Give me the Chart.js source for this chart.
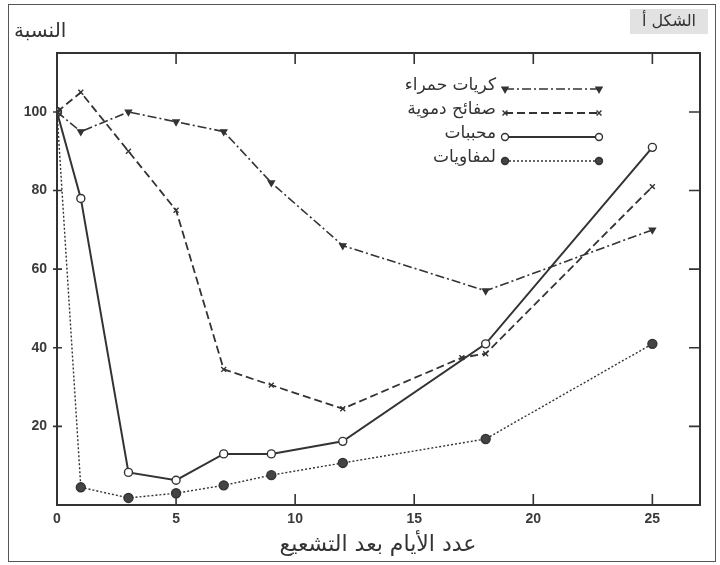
<!DOCTYPE html>
<html>
<head>
<meta charset="utf-8">
<script src="https://cdn.jsdelivr.net/npm/chart.js@4/dist/chart.umd.min.js"></script>
<style>
  html, body { margin: 0; padding: 0; background: #fff; }
  #wrap { position: relative; width: 720px; height: 565px; }
  #frame { position: absolute; left: 8px; top: 4px; width: 708px; height: 558px; border: 1px solid #555; box-sizing: border-box; pointer-events: none; }
</style>
</head>
<body>
<div id="wrap">
  <canvas id="chart" width="720" height="565"></canvas>
  <div id="frame"></div>
</div>
<script>
// days after irradiation
const days = [0, 1, 3, 5, 7, 9, 12, 18, 25];
const plateletDays = [0, 1, 3, 5, 7, 9, 12, 17, 18, 25];

const redCells = [100, 95, 100, 97.5, 95, 82, 66, 54.5, 70];
const platelets = [100, 105, 90, 75, 34.5, 30.5, 24.5, 37.5, 38.5, 81];
const granulocytes = [100, 78, 8.3, 6.3, 13, 13, 16.2, 41, 91];
const lymphocytes = [100, 4.5, 1.8, 3, 5, 7.6, 10.7, 16.8, 41];

const seriesNames = ['كريات حمراء', 'صفائح دموية', 'محببات', 'لمفاويات'];
const xTicks = [0, 5, 10, 15, 20, 25];
const yTicks = [20, 40, 60, 80, 100];

const yTitle = 'النسبة';
const xTitle = 'عدد الأيام بعد التشعيع';
const figLabel = 'الشكل أ';

const ink = '#333';
const arabicFont = '"DejaVu Sans", sans-serif';

function pts(xs, ys) {
  return xs.map((x, i) => ({ x: x, y: ys[i] }));
}

// frame, inward ticks, free texts and the legend
const decor = {
  id: 'decor',
  beforeDatasetsDraw(chart) {
    const ctx = chart.ctx;
    const a = chart.chartArea;
    const xs = chart.scales.x, ys = chart.scales.y;
    ctx.save();
    ctx.strokeStyle = ink;
    ctx.lineWidth = 2;
    ctx.strokeRect(a.left, a.top, a.right - a.left, a.bottom - a.top);
    ctx.lineWidth = 1.6;
    xTicks.slice(1).forEach(v => {
      const px = xs.getPixelForValue(v);
      ctx.beginPath();
      ctx.moveTo(px, a.bottom); ctx.lineTo(px, a.bottom - 11);
      ctx.moveTo(px, a.top); ctx.lineTo(px, a.top + 11);
      ctx.stroke();
    });
    yTicks.forEach(v => {
      const py = ys.getPixelForValue(v);
      ctx.beginPath();
      ctx.moveTo(a.left - 4, py); ctx.lineTo(a.left + 5, py);
      ctx.moveTo(a.right, py); ctx.lineTo(a.right - 11, py);
      ctx.stroke();
    });
    ctx.restore();
  },
  afterDraw(chart) {
    const ctx = chart.ctx;
    ctx.save();
    ctx.fillStyle = ink;
    ctx.font = '20px ' + arabicFont;
    ctx.textAlign = 'left';
    ctx.textBaseline = 'middle';
    ctx.fillText(yTitle, 14, 32);

    // figure label box
    ctx.fillStyle = '#e2e2e2';
    ctx.fillRect(630, 9, 78, 25);
    ctx.fillStyle = ink;
    ctx.font = '16px ' + arabicFont;
    ctx.textAlign = 'right';
    ctx.fillText(figLabel, 696, 22);

    ctx.font = '22px ' + arabicFont;
    ctx.textAlign = 'center';
    ctx.fillText(xTitle, 378, 545);

    // legend: text, then a sample line with a marker at both ends
    const rowY = [89, 113, 137, 161];
    chart.data.datasets.forEach((ds, i) => {
      const y = rowY[i];
      ctx.fillStyle = ink;
      ctx.font = '17px ' + arabicFont;
      ctx.textAlign = 'right';
      ctx.fillText(ds.label, 496, y - 3);
      ctx.strokeStyle = ds.borderColor;
      ctx.lineWidth = ds.borderWidth;
      ctx.setLineDash(ds.borderDash || []);
      ctx.beginPath();
      ctx.moveTo(505, y); ctx.lineTo(599, y);
      ctx.stroke();
      ctx.setLineDash([]);
      [505, 599].forEach(x => {
        ctx.fillStyle = ds.pointBackgroundColor;
        ctx.strokeStyle = ds.borderColor;
        ctx.lineWidth = 1.4;
        Chart.helpers.drawPoint(ctx, {
          pointStyle: ds.pointStyle,
          radius: 3.5,
          rotation: ds.pointRotation || 0,
          borderWidth: 1.4
        }, x, y);
      });
    });
    ctx.restore();
  }
};

const common = {
  borderColor: ink,
  pointBorderColor: ink,
  pointBorderWidth: 1.4,
  pointRadius: 4,
  fill: false,
  tension: 0
};

new Chart(document.getElementById('chart').getContext('2d'), {
  type: 'line',
  data: {
    datasets: [
      Object.assign({}, common, {
        label: seriesNames[0],
        data: pts(days, redCells),
        borderWidth: 1.6,
        borderDash: [9, 3, 2, 3],
        pointStyle: 'triangle',
        pointRotation: 180,
        pointBackgroundColor: ink,
        pointRadius: 3.5
      }),
      Object.assign({}, common, {
        label: seriesNames[1],
        data: pts(plateletDays, platelets),
        borderWidth: 1.8,
        borderDash: [8, 4],
        pointStyle: 'crossRot',
        pointBackgroundColor: ink,
        pointRadius: 3.5
      }),
      Object.assign({}, common, {
        label: seriesNames[2],
        data: pts(days, granulocytes),
        borderWidth: 2,
        borderDash: [],
        pointStyle: 'circle',
        pointBackgroundColor: '#fff'
      }),
      Object.assign({}, common, {
        label: seriesNames[3],
        data: pts(days, lymphocytes),
        borderWidth: 1.4,
        borderDash: [2, 2],
        pointStyle: 'circle',
        pointBackgroundColor: '#444',
        pointRadius: 4.5
      })
    ]
  },
  options: {
    responsive: false,
    animation: false,
    layout: { padding: { top: 53, right: 20, bottom: 0, left: 0 } },
    plugins: {
      legend: { display: false },
      tooltip: { enabled: false }
    },
    scales: {
      x: {
        type: 'linear',
        min: 0,
        max: 27,
        afterFit: s => { s.height = 60; },
        afterBuildTicks: s => { s.ticks = xTicks.map(v => ({ value: v })); },
        grid: { display: false, drawTicks: false },
        border: { display: false },
        ticks: {
          padding: 6,
          maxRotation: 0,
          color: '#3a3a3a',
          font: { family: '"Liberation Sans", sans-serif', size: 14, weight: 'bold' }
        }
      },
      y: {
        min: 0,
        max: 115,
        afterFit: s => { s.width = 57; },
        afterBuildTicks: s => { s.ticks = yTicks.map(v => ({ value: v })); },
        grid: { display: false, drawTicks: false },
        border: { display: false },
        ticks: {
          padding: 10,
          color: '#3a3a3a',
          font: { family: '"Liberation Sans", sans-serif', size: 14, weight: 'bold' }
        }
      }
    }
  },
  plugins: [decor]
});
</script>
</body>
</html>
